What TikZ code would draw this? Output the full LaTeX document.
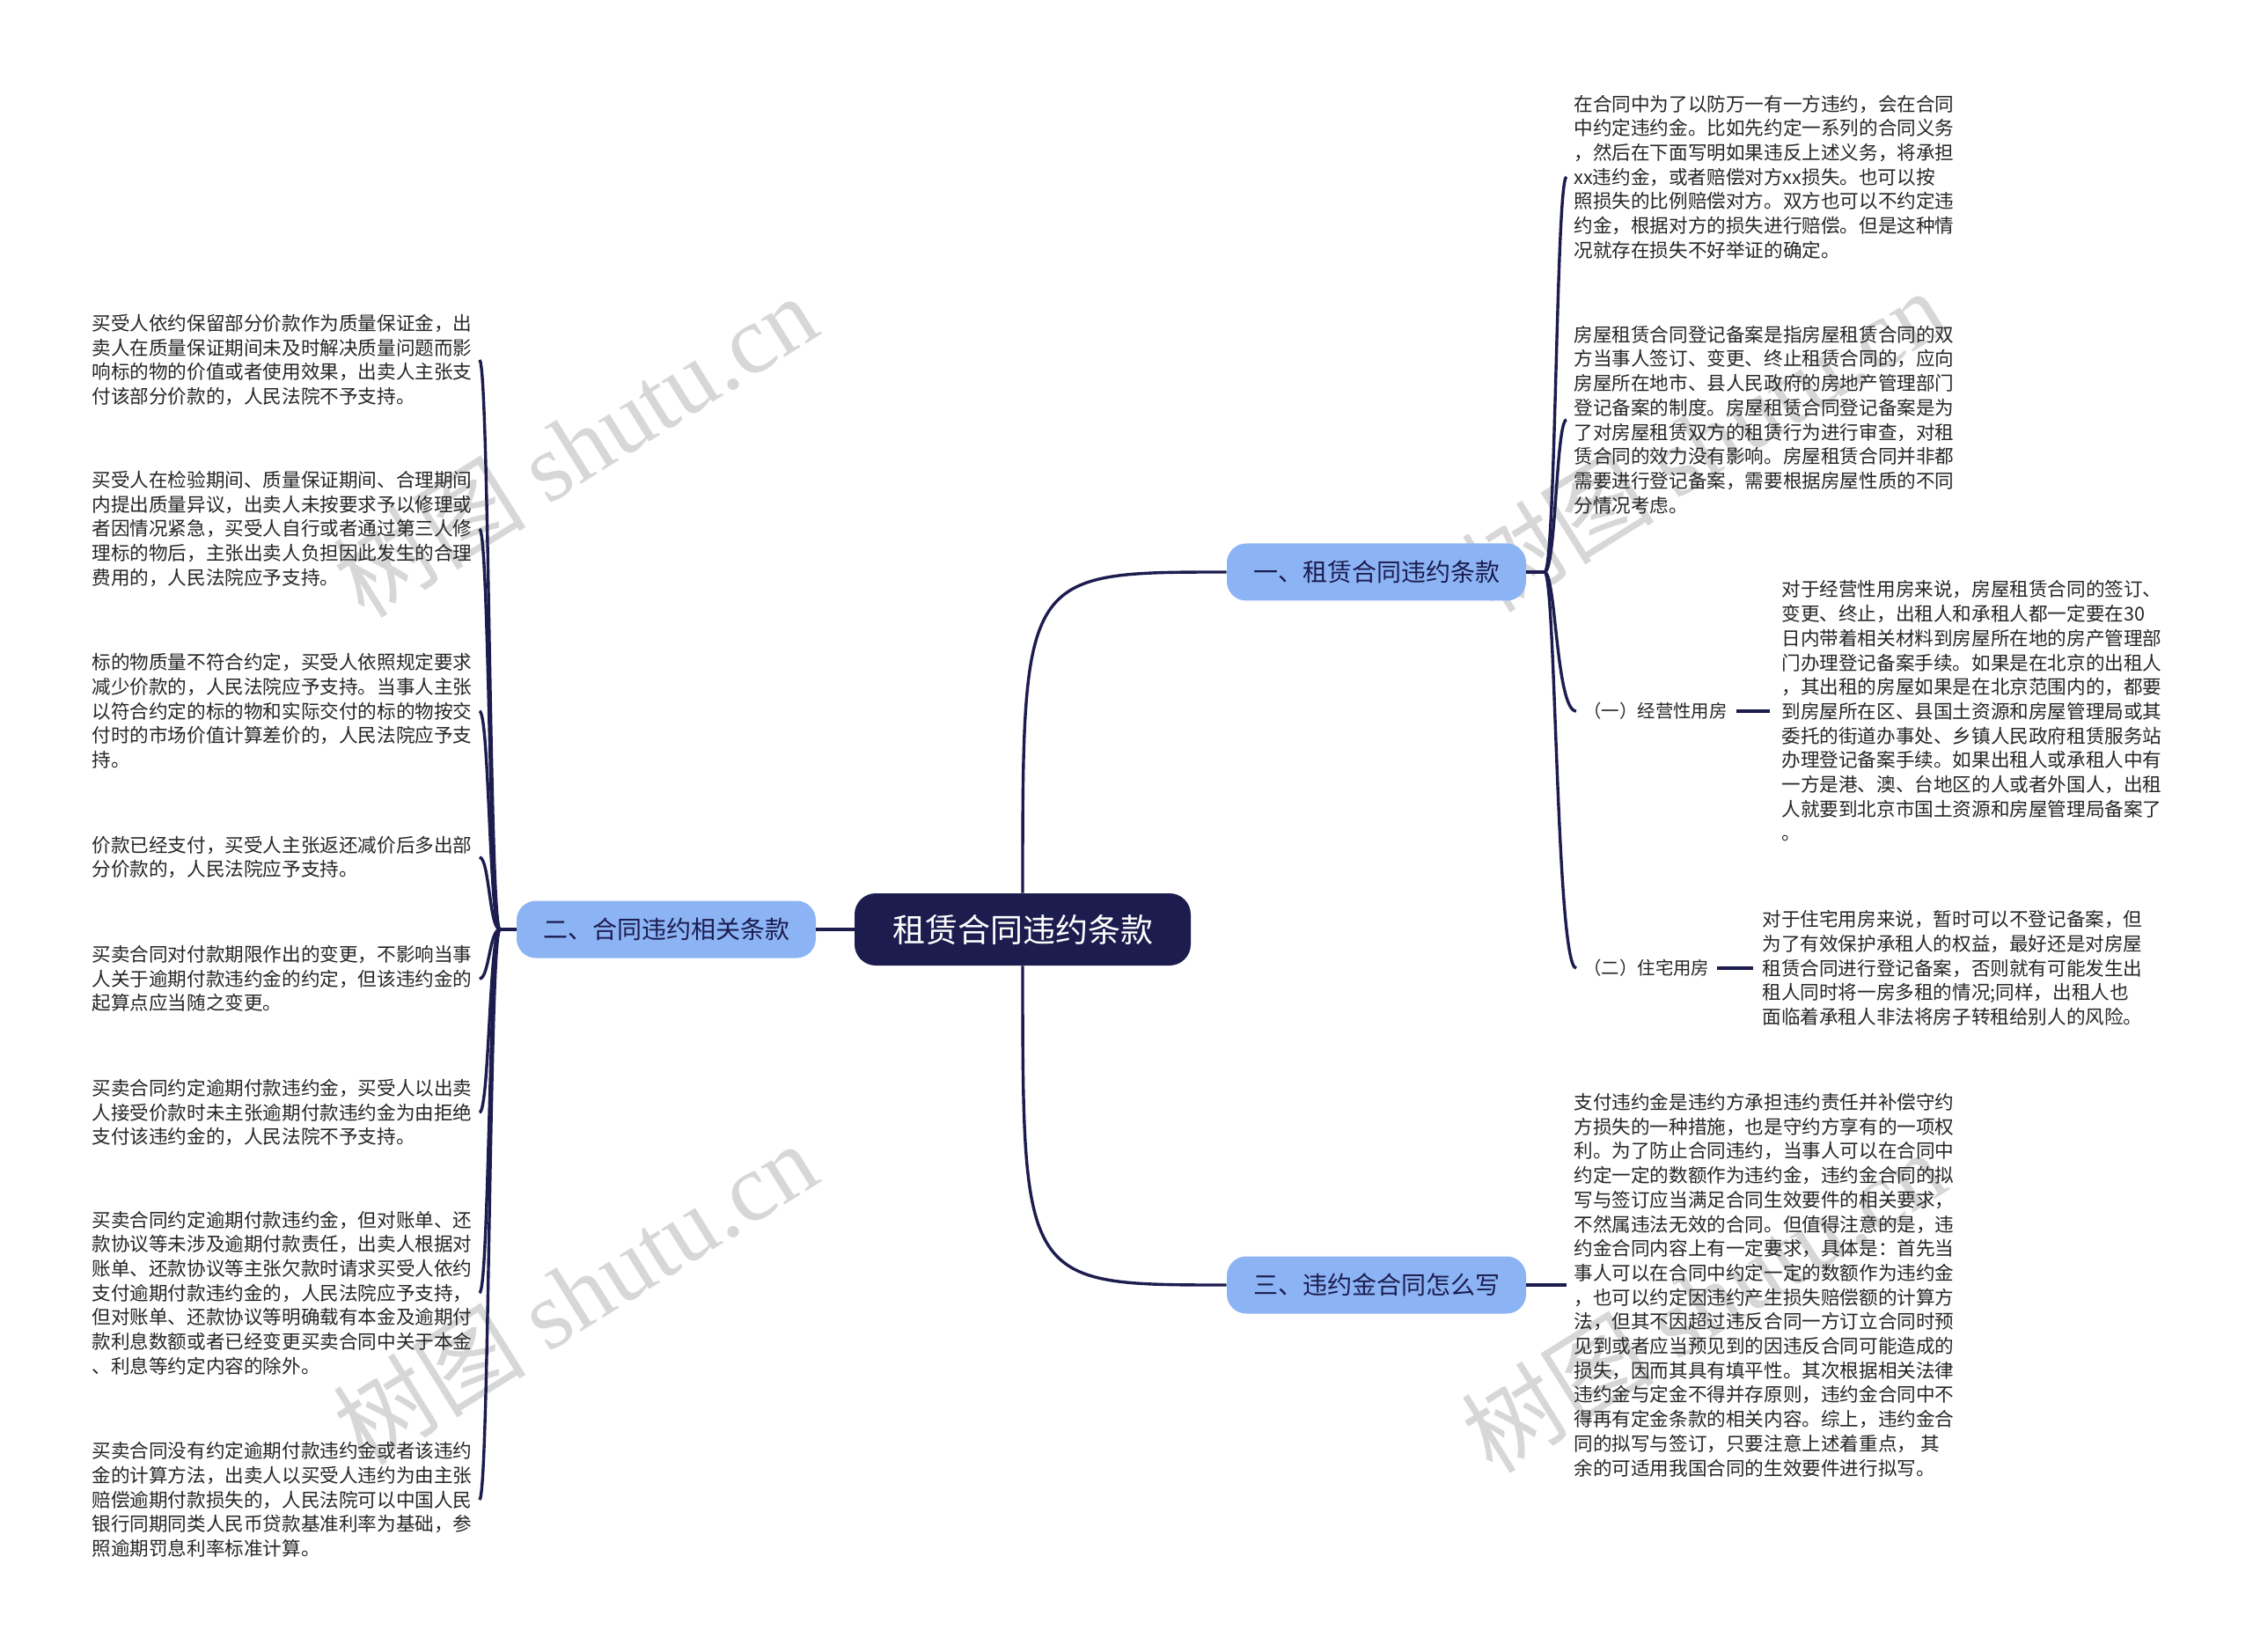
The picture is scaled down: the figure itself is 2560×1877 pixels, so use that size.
\documentclass[tikz,border=0pt]{standalone}
\usepackage{fontspec}
\setmainfont{Noto Sans CJK SC}
\newfontfamily\wmfont{Liberation Serif}
\definecolor{rootc}{HTML}{1C1C4F}
\definecolor{branchc}{HTML}{8CB4F5}
\definecolor{linec}{HTML}{1C1C4F}
\definecolor{txtc}{HTML}{262626}
\begin{document}
\begin{tikzpicture}[x=0.5pt,y=-0.5pt,
 rootnode/.style={fill=rootc,text=white,rounded corners=12pt,minimum width=191pt,minimum height=41pt,inner sep=0pt,font=\fontsize{18.5}{22}\selectfont},
 branchnode/.style={fill=branchc,text=rootc,rounded corners=11pt,minimum width=170pt,minimum height=32.5pt,inner sep=0pt,font=\fontsize{14}{17}\selectfont},
 leaf/.style={anchor=west,align=left,inner sep=0pt,text=txtc,font=\fontsize{10.8}{13.85}\selectfont},
 sublabel/.style={anchor=west,inner sep=0pt,text=txtc,font=\fontsize{10.2}{12}\selectfont},
 conn/.style={draw=linec,line width=1.7pt},
 wm/.style={text=black!22,opacity=0.7,rotate=32,font=\fontsize{55}{60}\selectfont}]
\fill[white] (0,0) rectangle (2560,1877);
\useasboundingbox (0,0) rectangle (2560,1877);
% watermarks
\node[wm] (wa) at (653,506) {树图 {\wmfont shutu.cn}};
\node[wm] (wb) at (653,1469) {树图 {\wmfont shutu.cn}};
\node[wm] (wc) at (1935,500) {树图 {\wmfont shutu.cn}};
\node[wm] (wd) at (1935,1478) {树图 {\wmfont shutu.cn}};
% main nodes
\node[rootnode] (root) at (1162,1056) {租赁合同违约条款};
\node[branchnode] (b1) at (1564,650) {一、租赁合同违约条款};
\node[branchnode] (b2) at (757,1056) {二、合同违约相关条款};
\node[branchnode] (b3) at (1564,1460) {三、违约金合同怎么写};
% right texts
\node[leaf] (t1) at (1788,201) {在合同中为了以防万一有一方违约，会在合同\\中约定违约金。比如先约定一系列的合同义务\\，然后在下面写明如果违反上述义务，将承担\\xx违约金，或者赔偿对方xx损失。也可以按\\照损失的比例赔偿对方。双方也可以不约定违\\约金，根据对方的损失进行赔偿。但是这种情\\况就存在损失不好举证的确定。};
\node[leaf] (t2) at (1788,477) {房屋租赁合同登记备案是指房屋租赁合同的双\\方当事人签订、变更、终止租赁合同的，应向\\房屋所在地市、县人民政府的房地产管理部门\\登记备案的制度。房屋租赁合同登记备案是为\\了对房屋租赁双方的租赁行为进行审查，对租\\赁合同的效力没有影响。房屋租赁合同并非都\\需要进行登记备案，需要根据房屋性质的不同\\分情况考虑。};
\node[sublabel] (s1) at (1799,808) {（一）经营性用房};
\node[leaf] (t3) at (2024,808) {对于经营性用房来说，房屋租赁合同的签订、\\变更、终止，出租人和承租人都一定要在30\\日内带着相关材料到房屋所在地的房产管理部\\门办理登记备案手续。如果是在北京的出租人\\，其出租的房屋如果是在北京范围内的，都要\\到房屋所在区、县国土资源和房屋管理局或其\\委托的街道办事处、乡镇人民政府租赁服务站\\办理登记备案手续。如果出租人或承租人中有\\一方是港、澳、台地区的人或者外国人，出租\\人就要到北京市国土资源和房屋管理局备案了\\。};
\node[sublabel] (s2) at (1799,1100) {（二）住宅用房};
\node[leaf] (t4) at (2002,1100) {对于住宅用房来说，暂时可以不登记备案，但\\为了有效保护承租人的权益，最好还是对房屋\\租赁合同进行登记备案，否则就有可能发生出\\租人同时将一房多租的情况;同样，出租人也\\面临着承租人非法将房子转租给别人的风险。};
\node[leaf] (t5) at (1788,1460) {支付违约金是违约方承担违约责任并补偿守约\\方损失的一种措施，也是守约方享有的一项权\\利。为了防止合同违约，当事人可以在合同中\\约定一定的数额作为违约金，违约金合同的拟\\写与签订应当满足合同生效要件的相关要求，\\不然属违法无效的合同。但值得注意的是，违\\约金合同内容上有一定要求，具体是：首先当\\事人可以在合同中约定一定的数额作为违约金\\，也可以约定因违约产生损失赔偿额的计算方\\法，但其不因超过违反合同一方订立合同时预\\见到或者应当预见到的因违反合同可能造成的\\损失，因而其具有填平性。其次根据相关法律\\违约金与定金不得并存原则，违约金合同中不\\得再有定金条款的相关内容。综上，违约金合\\同的拟写与签订，只要注意上述着重点， 其\\余的可适用我国合同的生效要件进行拟写。};
% left texts
\node[leaf] (a1) at (104,409) {买受人依约保留部分价款作为质量保证金，出\\卖人在质量保证期间未及时解决质量问题而影\\响标的物的价值或者使用效果，出卖人主张支\\付该部分价款的，人民法院不予支持。};
\node[leaf] (a2) at (104,601) {买受人在检验期间、质量保证期间、合理期间\\内提出质量异议，出卖人未按要求予以修理或\\者因情况紧急，买受人自行或者通过第三人修\\理标的物后，主张出卖人负担因此发生的合理\\费用的，人民法院应予支持。};
\node[leaf] (a3) at (104,808) {标的物质量不符合约定，买受人依照规定要求\\减少价款的，人民法院应予支持。当事人主张\\以符合约定的标的物和实际交付的标的物按交\\付时的市场价值计算差价的，人民法院应予支\\持。};
\node[leaf] (a4) at (104,974) {价款已经支付，买受人主张返还减价后多出部\\分价款的，人民法院应予支持。};
\node[leaf] (a5) at (104,1112) {买卖合同对付款期限作出的变更，不影响当事\\人关于逾期付款违约金的约定，但该违约金的\\起算点应当随之变更。};
\node[leaf] (a6) at (104,1264) {买卖合同约定逾期付款违约金，买受人以出卖\\人接受价款时未主张逾期付款违约金为由拒绝\\支付该违约金的，人民法院不予支持。};
\node[leaf] (a7) at (104,1469) {买卖合同约定逾期付款违约金，但对账单、还\\款协议等未涉及逾期付款责任，出卖人根据对\\账单、还款协议等主张欠款时请求买受人依约\\支付逾期付款违约金的，人民法院应予支持，\\但对账单、还款协议等明确载有本金及逾期付\\款利息数额或者已经变更买卖合同中关于本金\\、利息等约定内容的除外。};
\node[leaf] (a8) at (104,1704) {买卖合同没有约定逾期付款违约金或者该违约\\金的计算方法，出卖人以买受人违约为由主张\\赔偿逾期付款损失的，人民法院可以中国人民\\银行同期同类人民币贷款基准利率为基础，参\\照逾期罚息利率标准计算。};
% root connectors
\draw[conn] (root.north) .. controls (1162,650) and (1162,650) .. (b1.west);
\draw[conn] (root.south) .. controls (1162,1460) and (1162,1460) .. (b3.west);
\draw[conn] (root.west) -- (b2.east);
% branch 1 fan
\coordinate (j1) at (1755,650);
\coordinate (m1) at (1768,650);
\draw[conn] (b1.east) -- (j1);
\foreach \c in {t1,t2,s1,s2}
  \draw[conn] (j1) .. controls (m1) and (m1 |- \c.west) .. ([xshift=-4pt]\c.west);
\draw[conn] ([xshift=5pt]s1.east) -- ([xshift=-6.5pt]t3.west);
\draw[conn] ([xshift=4pt]s2.east) -- ([xshift=-5pt]t4.west);
% branch 2 fan
\coordinate (j2) at (568,1056);
\coordinate (m2) at (556,1056);
\draw[conn] (b2.west) -- (j2);
\foreach \c in {a1,a2,a3,a4,a5,a6,a7,a8}
  \draw[conn] (j2) .. controls (m2) and (m2 |- \c.east) .. ([xshift=4pt]\c.east);
% branch 3
\draw[conn] (b3.east) -- ([xshift=-4pt]t5.west);
\end{tikzpicture}
\end{document}
